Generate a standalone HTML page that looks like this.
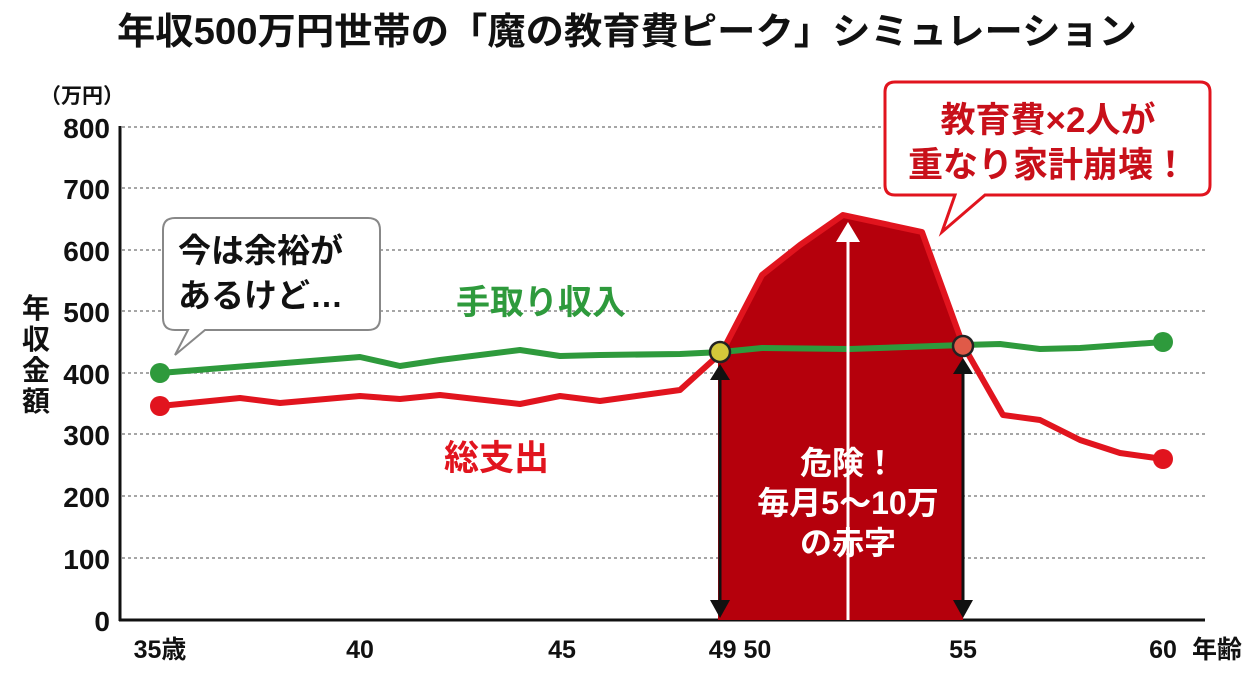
<!DOCTYPE html>
<html><head><meta charset="utf-8"><style>
body{margin:0;background:#fff;}
svg{display:block;font-family:"Liberation Sans","Noto Sans CJK JP",sans-serif;font-weight:bold;}
</style></head><body>
<svg width="1254" height="673" viewBox="0 0 1254 673">
<text x="627" y="44" text-anchor="middle" font-size="37" fill="#111" textLength="1020" lengthAdjust="spacingAndGlyphs">年収500万円世帯の「魔の教育費ピーク」シミュレーション</text>
<text x="40" y="103" font-size="21" fill="#111">（万円）</text>
<g stroke="#888" stroke-width="1.5" stroke-dasharray="3,3">
<line x1="122" y1="127" x2="1205" y2="127"/><line x1="122" y1="188" x2="1205" y2="188"/>
<line x1="122" y1="250" x2="1205" y2="250"/><line x1="122" y1="311" x2="1205" y2="311"/>
<line x1="122" y1="373" x2="1205" y2="373"/><line x1="122" y1="434" x2="1205" y2="434"/>
<line x1="122" y1="496" x2="1205" y2="496"/><line x1="122" y1="558" x2="1205" y2="558"/>
</g>
<line x1="120" y1="126" x2="120" y2="621" stroke="#111" stroke-width="3"/>
<line x1="119" y1="620" x2="1205" y2="620" stroke="#111" stroke-width="3"/>
<g font-size="28" fill="#111" text-anchor="end">
<text x="110" y="138">800</text><text x="110" y="199">700</text><text x="110" y="261">600</text>
<text x="110" y="322">500</text><text x="110" y="384">400</text><text x="110" y="445">300</text>
<text x="110" y="507">200</text><text x="110" y="569">100</text><text x="110" y="631">0</text>
</g>
<g font-size="28" fill="#111"><text x="22" y="318">年</text><text x="22" y="349">収</text><text x="22" y="380">金</text><text x="22" y="411">額</text></g>
<g font-size="25" fill="#111" text-anchor="middle">
<text x="160" y="658">35歳</text><text x="360" y="658">40</text><text x="562" y="658">45</text>
<text x="740" y="658">49 50</text><text x="963" y="658">55</text><text x="1163" y="658">60</text>
<text x="1217" y="658">年齢</text></g>
<polygon points="718,620 718,362 735,330 762,275 800,245 843,215 922,232 963,345 963,620" fill="#b5000c"/>
<polyline points="160,406 240,398 280,403 360,396 400,399 440,395 520,404 560,396 600,401 680,390 722,352 762,275 800,245 843,215 922,232 963,345 1003,415 1040,420 1080,440 1120,453 1163,459" fill="none" stroke="#e1141e" stroke-width="6" stroke-linejoin="round"/>
<polyline points="160,373 360,357 400,366 440,360 520,350 560,356 600,355 680,354 722,352 762,348 850,349 963,345 1000,344 1040,349 1080,348 1163,342" fill="none" stroke="#2e9a3c" stroke-width="6" stroke-linejoin="round"/>
<circle cx="160" cy="373" r="10" fill="#2e9a3c"/><circle cx="1163" cy="342" r="10" fill="#2e9a3c"/>
<circle cx="160" cy="406" r="10" fill="#e1141e"/><circle cx="1163" cy="459" r="10" fill="#e1141e"/>
<circle cx="720" cy="352" r="10" fill="#d4c83a" stroke="#222" stroke-width="2.5"/>
<circle cx="963" cy="346" r="10" fill="#e05a48" stroke="#222" stroke-width="2.5"/>
<line x1="848" y1="240" x2="848" y2="620" stroke="#fff" stroke-width="3"/>
<polygon points="848,222 836,242 860,242" fill="#fff"/>
<g stroke="#111" stroke-width="3"><line x1="720" y1="378" x2="720" y2="600"/><line x1="963" y1="372" x2="963" y2="600"/></g>
<g fill="#111"><polygon points="720,364 710,380 730,380"/><polygon points="720,618 710,600 730,600"/>
<polygon points="963,358 953,374 973,374"/><polygon points="963,618 953,600 973,600"/></g>
<g font-size="32" fill="#fff" text-anchor="middle"><text x="848" y="474">危険！</text><text x="848" y="514">毎月5～10万</text><text x="848" y="554">の赤字</text></g>
<text x="456" y="314" font-size="34" fill="#2e9a3c">手取り収入</text>
<text x="444" y="470" font-size="35" fill="#e1141e">総支出</text>
<path d="M175,218 H368 Q380,218 380,230 V318 Q380,330 368,330 H205 L175,355 L188,330 H175 Q163,330 163,318 V230 Q163,218 175,218 Z" fill="#fff" stroke="#888" stroke-width="2"/>
<g font-size="33" fill="#111"><text x="178" y="262">今は余裕が</text><text x="178" y="307">あるけど…</text></g>
<path d="M895,82 H1200 Q1210,82 1210,92 V185 Q1210,195 1200,195 H985 L942,232 L955,195 H895 Q885,195 885,185 V92 Q885,82 895,82 Z" fill="#fff" stroke="#e1141e" stroke-width="3"/>
<g font-size="35" fill="#c8101a" text-anchor="middle"><text x="1048" y="132">教育費×2人が</text><text x="1048" y="177">重なり家計崩壊！</text></g>
</svg>
</body></html>
